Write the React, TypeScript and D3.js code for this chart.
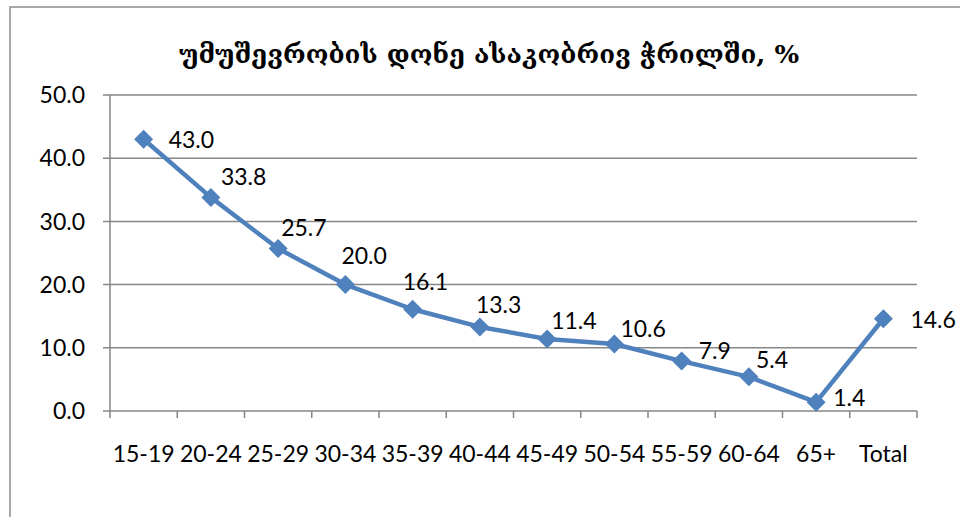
import React from "react";
import * as d3 from "d3";

const title = "უმუშევრობის დონე ასაკობრივ ჭრილში, %";
const categories = ["15-19", "20-24", "25-29", "30-34", "35-39", "40-44", "45-49", "50-54", "55-59", "60-64", "65+", "Total"];
const values = [43.0, 33.8, 25.7, 20.0, 16.1, 13.3, 11.4, 10.6, 7.9, 5.4, 1.4, 14.6];
const yTicks = [0, 10, 20, 30, 40, 50];
// label placement offsets relative to each point (layout, not data)
const labelDx = [25, 10, 3, -4, -10, -4, 4, 6, 17, 7, 17, 27];
const labelDy = [9, -12, -13, -21, -19, -14, -10, -7, -2, -9, 4, 9];

export default function App() {
  const W = 960, H = 517;
  const left = 110, right = 917, top = 95, bottom = 411;
  const x = d3.scaleBand<string>().domain(categories).range([left, right]);
  const y = d3.scaleLinear().domain([0, 50]).range([bottom, top]);
  const cx = (c: string) => (x(c) as number) + x.bandwidth() / 2;
  const line = d3.line<number>().x((_, i) => cx(categories[i])).y((v) => y(v));
  const font = "Lato, 'Liberation Sans', sans-serif";
  const grid = "#868686";
  const blue = "#4F81BD";
  const ds = 9.5;
  return (
    <svg width={W} height={H} style={{ position: "absolute", left: 0, top: 0, display: "block" }}>
      <rect x={0} y={0} width={W} height={H} fill="#fff" />
      <rect x={10} y={7} width={W + 10} height={H + 10} fill="none" stroke="#8c8c8c" strokeWidth={1.5} />
      <text x={489} y={63} textAnchor="middle" fontFamily="'DejaVu Serif', serif" fontWeight="bold" fontSize={25} textLength={620} lengthAdjust="spacingAndGlyphs" fill="#000">{title}</text>
      {yTicks.map((t) => (
        <g key={t}>
          <line x1={left - 7} x2={right} y1={y(t)} y2={y(t)} stroke={grid} strokeWidth={1.5} />
          <text x={left - 25} y={y(t)} dy="0.36em" textAnchor="end" fontFamily={font} fontSize={23} fill="#000">{t.toFixed(1)}</text>
        </g>
      ))}
      <line x1={left} x2={left} y1={top} y2={bottom} stroke={grid} strokeWidth={1.5} />
      {d3.range(categories.length + 1).map((i) => {
        const xx = left + i * x.step();
        return <line key={i} x1={xx} x2={xx} y1={bottom} y2={bottom + 7} stroke={grid} strokeWidth={1.5} />;
      })}
      {categories.map((c) => (
        <text key={c} x={cx(c)} y={462} textAnchor="middle" fontFamily={font} fontSize={23} fill="#000">{c}</text>
      ))}
      <path d={line(values) as string} fill="none" stroke={blue} strokeWidth={4.5} strokeLinejoin="round" />
      {values.map((v, i) => {
        const px = cx(categories[i]);
        const py = y(v);
        return (
          <g key={i}>
            <path d={`M${px},${py - ds}L${px + ds},${py}L${px},${py + ds}L${px - ds},${py}Z`} fill={blue} />
            <text x={px + labelDx[i]} y={py + labelDy[i]} fontFamily={font} fontSize={23} fill="#000">{v.toFixed(1)}</text>
          </g>
        );
      })}
    </svg>
  );
}
